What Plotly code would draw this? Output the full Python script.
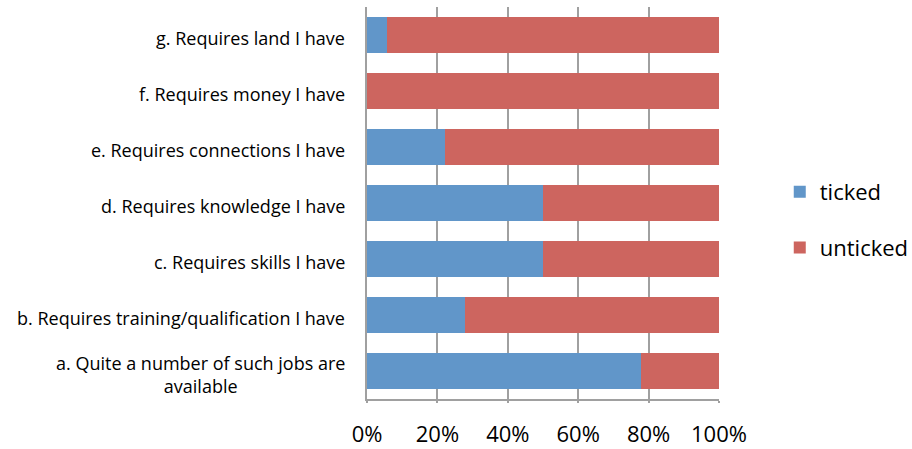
import plotly.graph_objects as go

# Survey statements (bottom to top) and respondent counts
statements = [
    "a. Quite a number of such jobs are<br>available",
    "b. Requires training/qualification I have",
    "c. Requires skills I have",
    "d. Requires knowledge I have",
    "e. Requires connections I have",
    "f. Requires money I have",
    "g. Requires land I have",
]
keys = ["a", "b", "c", "d", "e", "f", "g"]
ticked = [14, 5, 9, 9, 4, 0, 1]
unticked = [4, 13, 9, 9, 14, 18, 17]
x_ticks = [0, 20, 40, 60, 80, 100]

BLUE = "#6196C9"
RED = "#CD655F"
GRID = "#A0A0A0"
FONT = "Open Sans"

fig = go.Figure()
fig.add_trace(go.Bar(y=keys, x=ticked, name="ticked", orientation="h",
                     marker=dict(color=BLUE, line=dict(width=0)), legendgroup="t"))
fig.add_trace(go.Bar(y=keys, x=unticked, name="unticked", orientation="h",
                     marker=dict(color=RED, line=dict(width=0)), legendgroup="u"))

# Category labels, centred for wrapped text
for k, s in zip(keys, statements):
    fig.add_annotation(x=0, xref="paper", y=k, yref="y", text=s, showarrow=False,
                       xanchor="right", yanchor="middle", xshift=-20, yshift=-3,
                       align="center",
                       font=dict(family=FONT, size=18, color="#000000"))

fig.update_layout(
    barmode="stack",
    barnorm="percent",
    bargap=0.357,
    width=912, height=449,
    margin=dict(l=367, r=193, t=7, b=50, autoexpand=False),
    paper_bgcolor="white",
    plot_bgcolor="white",
    font=dict(family=FONT, color="#000000"),
    legend=dict(xref="container", yref="container", x=0.855, y=0.51,
                xanchor="left", yanchor="middle",
                font=dict(family=FONT, size=22), tracegroupgap=24,
                bgcolor="rgba(0,0,0,0)"),
    xaxis=dict(range=[0, 100], tickvals=x_ticks,
               ticktext=[f"{v}%" for v in x_ticks],
               showgrid=True, gridcolor=GRID, gridwidth=1.5,
               showline=True, linecolor=GRID, linewidth=1.5,
               ticks="outside", ticklen=2, tickcolor=GRID, tickwidth=1.5,
               ticklabelstandoff=13, automargin=False,
               tickfont=dict(family=FONT, size=22), zeroline=False),
    yaxis=dict(categoryorder="array", categoryarray=keys,
               showticklabels=False, showgrid=False, automargin=False,
               showline=True, linecolor=GRID, linewidth=1.5,
               range=[-0.5, 6.5], zeroline=False),
)

fig.write_html("out.html")
